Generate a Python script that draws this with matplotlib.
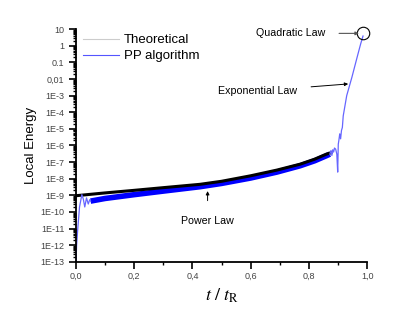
import numpy as np
import matplotlib
matplotlib.use('Agg')
import matplotlib.pyplot as plt
from matplotlib.lines import Line2D

plt.rcParams['font.family'] = ['Liberation Sans', 'DejaVu Sans']
plt.rcParams['mathtext.fontset'] = 'stix'

# theoretical curve (black)
t_theo = [0.0, 0.1, 0.2, 0.3, 0.426, 0.5, 0.6, 0.69, 0.77, 0.82, 0.86, 0.875]
e_theo = [9.5e-10, 1.4e-9, 2.0e-9, 2.9e-9, 4.6e-9, 7.0e-9, 1.5e-8, 3.3e-8, 7.5e-8, 1.5e-7, 3.0e-7, 3.6e-7]

# PP algorithm, smooth part (thick band below theoretical)
t_pp = [0.05, 0.1, 0.2, 0.3, 0.426, 0.5, 0.6, 0.69, 0.77, 0.82, 0.86, 0.872]
e_pp = [4.5e-10, 6.5e-10, 1.1e-9, 1.8e-9, 3.3e-9, 5.2e-9, 1.1e-8, 2.5e-8, 6.0e-8, 1.2e-7, 2.4e-7, 3.0e-7]

# PP algorithm, thin parts (start transient and final blow-up)
t_start = [0.0, 0.002, 0.006, 0.012, 0.02, 0.025, 0.03, 0.036, 0.042, 0.047, 0.05]
e_start = [1e-13, 1e-12, 1e-11, 2e-10, 1.1e-9, 6e-10, 2e-10, 7e-10, 3e-10, 5.5e-10, 4.5e-10]
t_end = [0.872, 0.876, 0.879, 0.882, 0.885, 0.888, 0.892, 0.896, 0.899, 0.901, 0.903, 0.906,
         0.909, 0.912, 0.915, 0.918, 0.93, 0.948, 0.966, 0.978, 0.986]
e_end = [3.0e-7, 5.0e-7, 2.5e-7, 5.5e-7, 4.0e-7, 7.0e-7, 6.0e-7, 3.0e-7, 2.5e-8, 1.2e-6, 2.0e-6,
         5.0e-6, 2.5e-6, 8.0e-6, 1.2e-5, 6.0e-5, 1.0e-3, 1.3e-2, 2.1e-1, 1.3, 3.8]

yticks = [10.0 ** k for k in range(1, -14, -1)]
ylabels = ['10', '1', '0.1', '0,01'] + ['1E%d' % k for k in range(-3, -14, -1)]
xticks = [0.0, 0.2, 0.4, 0.6, 0.8, 1.0]
xlabels = ['0,0', '0,2', '0,4', '0,6', '0,8', '1,0']

fig = plt.figure(figsize=(3.96, 3.34), dpi=100)
ax = fig.add_axes([0.192, 0.216, 0.735, 0.697])

ax.plot(t_pp, e_pp, color='#0000ff', lw=4.0, solid_capstyle='butt')
ax.plot(t_theo, e_theo, color='black', lw=2.2)
ax.plot(t_start, e_start, color='#6666ff', lw=0.9)
ax.plot(t_end, e_end, color='#6666ff', lw=0.9)

ax.set_yscale('log')
ax.set_ylim(1e-13, 10)
ax.set_xlim(0, 1.0)
ax.set_yticks(yticks)
ax.set_yticklabels(ylabels)
ax.yaxis.set_minor_locator(matplotlib.ticker.LogLocator(base=10, subs=np.arange(2, 10), numticks=100))
ax.yaxis.set_minor_formatter(matplotlib.ticker.NullFormatter())
ax.set_xticks(xticks)
ax.set_xticklabels(xlabels)
ax.set_xticks([0.1, 0.3, 0.5, 0.7, 0.9], minor=True)

ax.spines['top'].set_visible(False)
ax.spines['right'].set_visible(False)
ax.spines['left'].set_linewidth(1.3)
ax.spines['bottom'].set_linewidth(1.3)
ax.tick_params(which='major', direction='out', length=5, width=1.2, labelsize=6.5, labelcolor='#444444')
ax.tick_params(axis='x', which='major', pad=2.5)
ax.tick_params(which='minor', direction='out', length=2.5, width=1.0)

ax.set_ylabel('Local Energy', fontsize=9.5, labelpad=2)
ax.set_xlabel(r'$t\ /\ t_{\mathrm{R}}$', fontsize=13, labelpad=4)

handles = [Line2D([], [], color='#cccccc', lw=0.8), Line2D([], [], color='#5555ff', lw=0.8)]
ax.legend(handles, ['Theoretical', 'PP algorithm'], loc='upper left', bbox_to_anchor=(-0.017, 1.03),
          frameon=False, fontsize=9.5, handlelength=2.7, handletextpad=0.4, labelspacing=0.3)

# annotations
ax.plot([0.986], [5.5], marker='o', ms=9, mfc='none', mec='black', mew=0.8, clip_on=False)
ax.annotate('Quadratic Law', xy=(0.972, 5.5), xytext=(0.856, 5.5), fontsize=7.7, ha='right', va='center',
            arrowprops=dict(arrowstyle='-|>', color='#555555', lw=0.8, mutation_scale=5, shrinkA=8, shrinkB=0))
ax.annotate('Exponential Law', xy=(0.935, 5e-3), xytext=(0.76, 1.9e-3), fontsize=7.7, ha='right', va='center',
            arrowprops=dict(arrowstyle='-|>', color='black', lw=0.7, mutation_scale=5, shrinkA=8, shrinkB=0))
ax.annotate('Power Law', xy=(0.452, 1.8e-9), xytext=(0.452, 2.9e-11), fontsize=7.7, ha='center', va='center',
            arrowprops=dict(arrowstyle='-|>', color='black', lw=0.7, mutation_scale=5, shrinkB=0, shrinkA=9))

fig.savefig('out.png', dpi=100)
